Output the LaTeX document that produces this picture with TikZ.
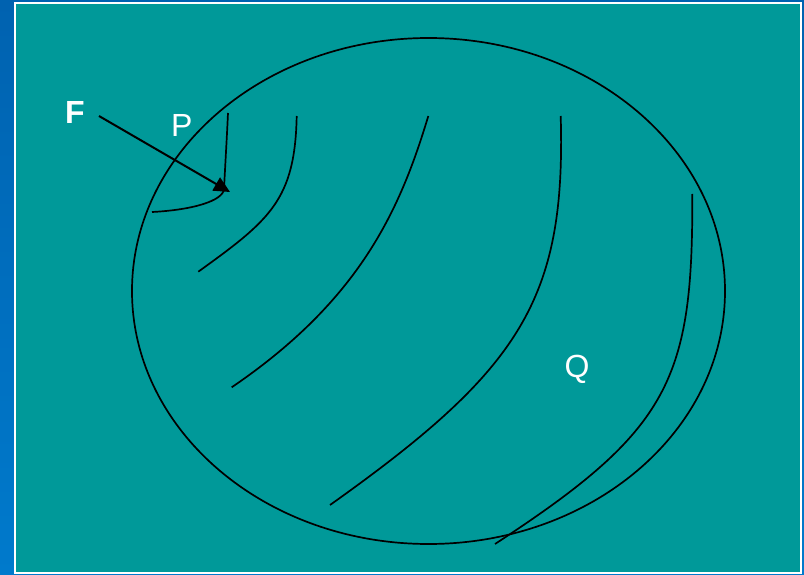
\documentclass[tikz,border=0pt]{standalone}
\usepackage{fontspec}
\setmainfont{Liberation Sans}
\usetikzlibrary{arrows.meta}
\definecolor{teal1}{HTML}{009999}
\definecolor{blueA}{HTML}{0062B0}
\definecolor{blueB}{HTML}{007ACC}
\tikzset{
  line/.style={black,line width=1.7pt},
  lbl/.style={text=white,font=\fontsize{32}{36}\selectfont,anchor=base,inner sep=0pt}
}
\begin{document}
\begin{tikzpicture}[x=1pt,y=-1pt]
\useasboundingbox (0,0) rectangle (804,575);
\shade[top color=blueA,bottom color=blueB] (0,0) rectangle (804,575);
\fill[teal1] (15,3) rectangle (801,573);
\draw[white,line width=1.2pt] (15,3) rectangle (801,573);
% ellipse
\draw[line] (428.5,291) ellipse [x radius=296.5, y radius=253];
% curves
\draw[line] (152,212) .. controls (192,210) and (223,201) .. (224,189) .. controls (225.5,160) and (227,135) .. (228,113);
\draw[line] (296.7,116) .. controls (295,200) and (270,220) .. (198.3,271.7);
\draw[line] (428.3,116) .. controls (400,210) and (360,300) .. (231.7,387.3);
\draw[line] (560.7,116) .. controls (566,300) and (520,370) .. (330,505);
\draw[line] (692.3,194) .. controls (693,380) and (670,430) .. (495,544);
% arrow
\coordinate (fstart) at (99,116);
\coordinate (ftip) at (230,192);
\draw[black,line width=2pt,-{Triangle[length=16pt,width=15pt]}] (fstart) -- (ftip);
% labels
\node[lbl,font=\fontsize{32}{36}\selectfont\bfseries] (F) at (75,124) {F};
\node[lbl] (P) at (181.7,137) {P};
\node[lbl] (Q) at (577,377) {Q};
\end{tikzpicture}
\end{document}
